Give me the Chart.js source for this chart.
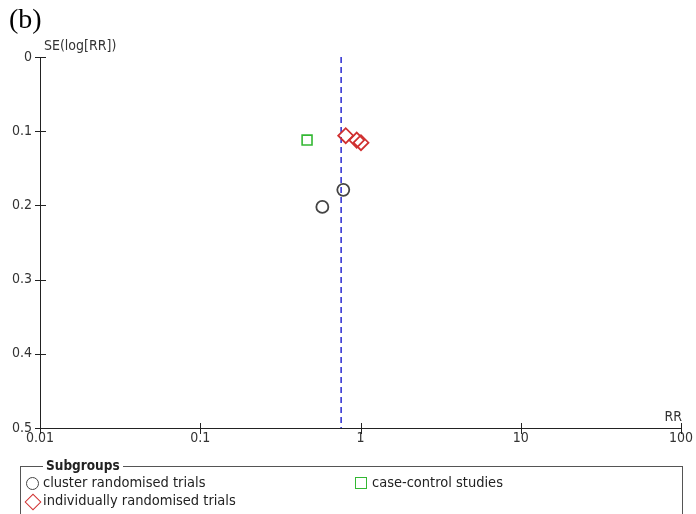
<!DOCTYPE html>
<html>
<head>
<meta charset="utf-8">
<script src="https://cdn.jsdelivr.net/npm/chart.js@4/dist/chart.umd.min.js"></script>
<style>
  body { margin: 0; background: #fff; }
  #wrap { position: relative; width: 696px; height: 514px; overflow: hidden; }
  #plot { position: absolute; left: 0; top: 0; }
  .panel { position: absolute; left: 9px; top: 3px; font: 28px "Liberation Serif", serif; color: #000; }
  .subgroups { position: absolute; left: 20px; top: 466px; width: 661px; height: 60px; border: 1px solid #555; }
  .subgroups .title { position: absolute; left: 22px; top: -10px; padding: 0 3px; background: #fff; font: bold 13.5px "DejaVu Sans Condensed", "DejaVu Sans", sans-serif; color: #222; }
  .item { position: absolute; font: 14.5px "DejaVu Sans Condensed", "DejaVu Sans", sans-serif; color: #222; white-space: nowrap; }
  .icon { position: absolute; box-sizing: border-box; }
</style>
</head>
<body>
<div id="wrap">
  <canvas id="plot" width="696" height="514"></canvas>
  <div class="panel">(b)</div>
  <div class="subgroups">
    <span class="title">Subgroups</span>
  </div>
</div>
<script>
// subgroups
const groupNames = ["cluster randomised trials", "individually randomised trials", "case-control studies"];
// risk ratio / standard error of log RR per study
const clusterRR = [0.781, 0.578];
const clusterSE = [0.179, 0.202];
const individualRR = [0.809, 0.947, 1.007];
const individualSE = [0.106, 0.112, 0.1155];
const caseControlRR = [0.464];
const caseControlSE = [0.112];
// pooled estimate (dashed line)
const pooledRR = 0.757;
// axis ticks
const xTicks = [0.01, 0.1, 1, 10, 100];
const yTicks = [0, 0.1, 0.2, 0.3, 0.4, 0.5];

const toPoints = (rr, se) => rr.map((v, i) => ({ x: v, y: se[i] }));

const fontFamily = "DejaVu Sans Condensed, DejaVu Sans, sans-serif";
const axisFont = { family: fontFamily, size: 14 };

// ticks that cross the axis line, plus the horizontal axis titles
const crossTicks = {
  id: "crossTicks",
  afterDraw(chart) {
    const { ctx, chartArea, scales } = chart;
    ctx.save();
    ctx.strokeStyle = "#222";
    ctx.lineWidth = 1;
    yTicks.forEach((v) => {
      const py = Math.round(scales.y.getPixelForValue(v)) + 0.5;
      ctx.beginPath();
      ctx.moveTo(chartArea.left - 5, py);
      ctx.lineTo(chartArea.left + 6, py);
      ctx.stroke();
    });
    xTicks.forEach((v) => {
      const px = Math.round(scales.x.getPixelForValue(v)) + 0.5;
      ctx.beginPath();
      ctx.moveTo(px, chartArea.bottom - 5);
      ctx.lineTo(px, chartArea.bottom + 6);
      ctx.stroke();
    });
    ctx.fillStyle = "#333";
    ctx.font = "14px " + fontFamily;
    ctx.textAlign = "left";
    ctx.textBaseline = "alphabetic";
    ctx.fillText("SE(log[RR])", chartArea.left + 4, chartArea.top - 7);
    ctx.textAlign = "right";
    ctx.fillText("RR", chartArea.right + 1, chartArea.bottom - 7);
    ctx.restore();
  },
};

new Chart(document.getElementById("plot"), {
  type: "scatter",
  data: {
    datasets: [
      {
        type: "line",
        label: "pooled",
        data: [{ x: pooledRR, y: 0 }, { x: pooledRR, y: 0.5 }],
        borderColor: "#2a2ad0",
        borderWidth: 1.5,
        borderDash: [6, 4],
        pointRadius: 0,
        order: 5,
      },
      {
        label: groupNames[0],
        data: toPoints(clusterRR, clusterSE),
        pointStyle: "circle",
        pointRadius: 6,
        borderColor: "#444",
        borderWidth: 1.8,
        backgroundColor: "rgba(0,0,0,0)",
        order: 1,
      },
      {
        label: groupNames[1],
        data: toPoints(individualRR, individualSE),
        pointStyle: "rectRot",
        pointRadius: 7.5,
        borderColor: "#d03030",
        borderWidth: 1.8,
        backgroundColor: "rgba(0,0,0,0)",
        order: 1,
      },
      {
        label: groupNames[2],
        data: toPoints(caseControlRR, caseControlSE),
        pointStyle: "rect",
        pointRadius: 7,
        borderColor: "#33b833",
        borderWidth: 1.6,
        backgroundColor: "rgba(0,0,0,0)",
        order: 1,
      },
    ],
  },
  options: {
    responsive: false,
    animation: false,
    devicePixelRatio: 1,
    layout: { padding: { left: 0, right: 15, top: 57, bottom: 0 } },
    plugins: { legend: { display: false }, tooltip: { enabled: false } },
    scales: {
      x: {
        type: "logarithmic",
        min: 0.01,
        max: 100,
        afterFit: (s) => { s.height = 86; },
        afterBuildTicks: (s) => { s.ticks = xTicks.map((v) => ({ value: v })); },
        grid: { display: false, drawTicks: false },
        border: { display: true, color: "#222", width: 1 },
        ticks: {
          padding: 2,
          color: "#333",
          font: axisFont,
          maxRotation: 0,
          autoSkip: false,
          callback: (v) => String(v),
        },
      },
      y: {
        type: "linear",
        reverse: true,
        min: 0,
        max: 0.5,
        afterFit: (s) => { s.width = 40; },
        afterBuildTicks: (s) => { s.ticks = yTicks.map((v) => ({ value: v })); },
        grid: { display: false, drawTicks: false },
        border: { display: true, color: "#222", width: 1 },
        ticks: {
          padding: 8,
          color: "#333",
          font: axisFont,
          callback: (v) => String(v),
        },
      },
    },
  },
  plugins: [crossTicks],
});

// legend entries, same markers as the datasets
const legendBox = document.querySelector(".subgroups");
const legendItems = [
  { name: groupNames[0], left: 4, top: 7, icon: "circle" },
  { name: groupNames[1], left: 4, top: 25, icon: "diamond" },
  { name: groupNames[2], left: 333, top: 7, icon: "square" },
];
legendItems.forEach((it) => {
  const el = document.createElement("div");
  el.className = "item";
  el.style.left = it.left + 18 + "px";
  el.style.top = it.top + "px";
  el.textContent = it.name;
  legendBox.appendChild(el);
  const ic = document.createElement("div");
  ic.className = "icon";
  if (it.icon === "circle") {
    Object.assign(ic.style, { left: it.left + 1 + "px", top: it.top + 3 + "px", width: "13px", height: "13px", border: "1.6px solid #444", borderRadius: "50%" });
  } else if (it.icon === "square") {
    Object.assign(ic.style, { left: it.left + 1 + "px", top: it.top + 3 + "px", width: "12px", height: "12px", border: "1.5px solid #33b833" });
  } else {
    Object.assign(ic.style, { left: it.left + 2 + "px", top: it.top + 4 + "px", width: "12px", height: "12px", border: "1.6px solid #d03030", transform: "rotate(45deg)" });
  }
  legendBox.appendChild(ic);
});
</script>
</body>
</html>
